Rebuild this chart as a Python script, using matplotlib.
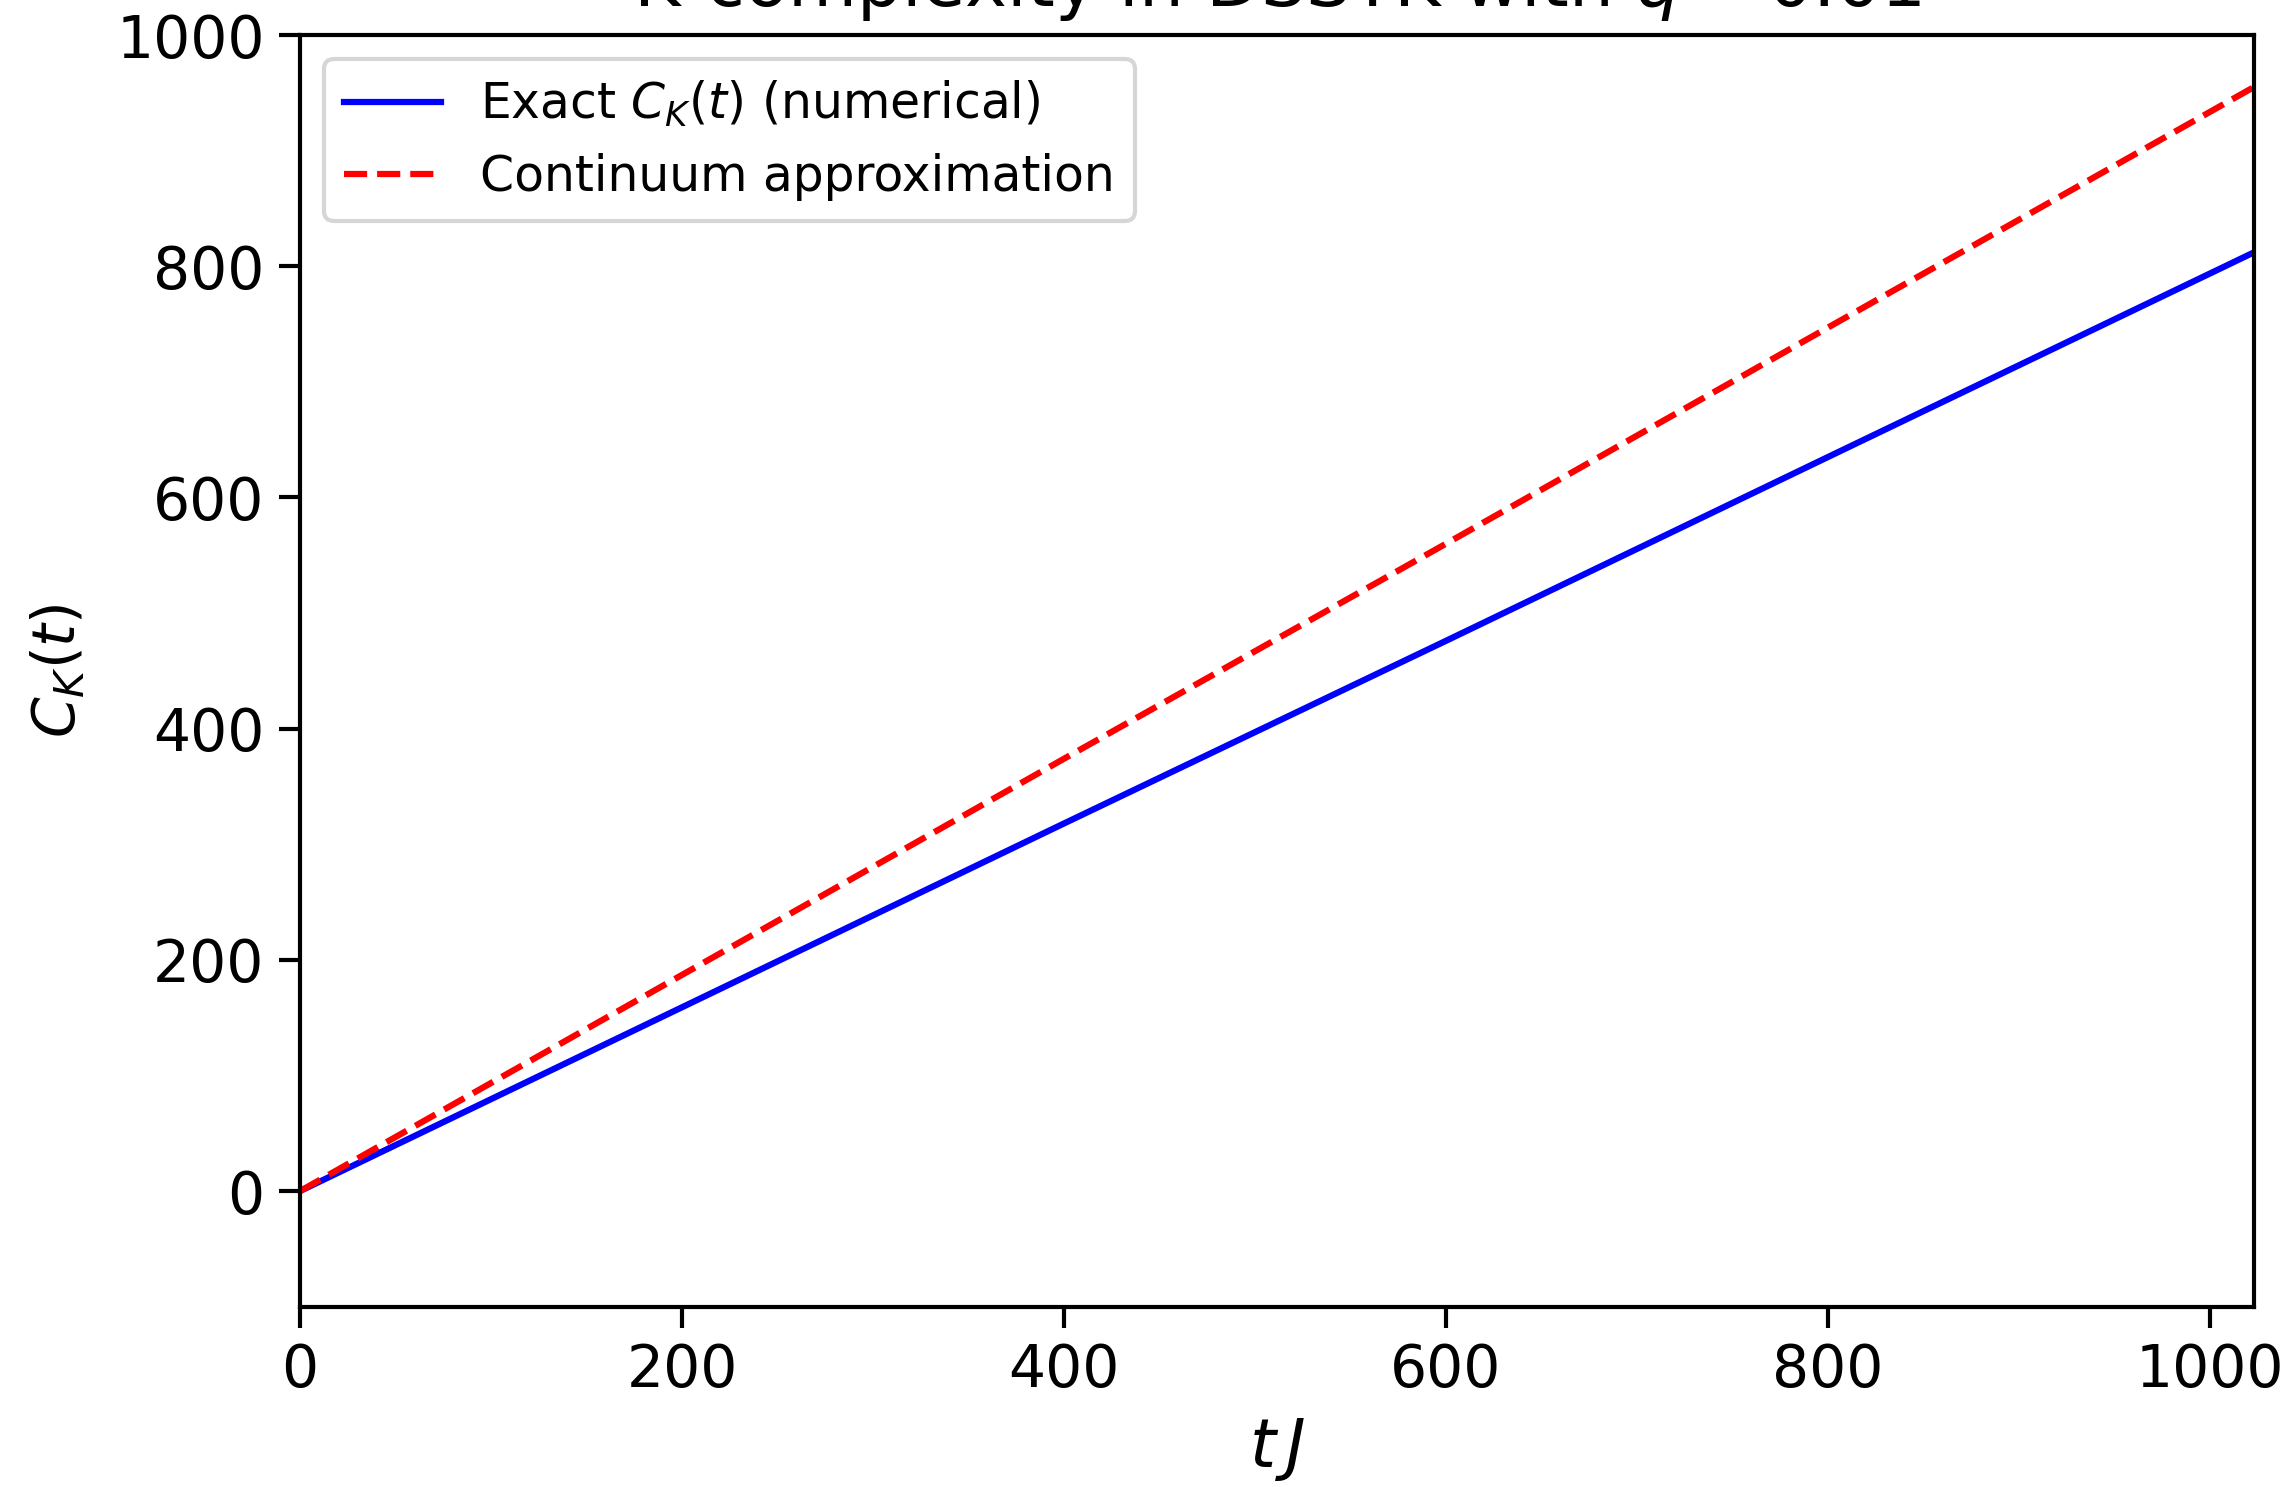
import matplotlib
matplotlib.use("Agg")
import matplotlib.pyplot as plt

# Data
t_vals = [0, 200, 400, 600, 800, 1023]
exact_ck = [0, 159, 318, 476, 635, 812]
continuum_ck = [0, 187, 374, 560, 747, 955]

x_ticks = [0, 200, 400, 600, 800, 1000]
y_ticks = [0, 200, 400, 600, 800, 1000]

fig = plt.figure(figsize=(2295 / 300, 1487 / 300), dpi=300)
ax = fig.add_axes([300 / 2295, 1 - 1306.7 / 1487, (2254 - 300) / 2295, (1306.7 - 35) / 1487])

ax.plot(t_vals, exact_ck, color="blue", lw=1.5, label=r"Exact $C_K(t)$ (numerical)")
ax.plot(t_vals, continuum_ck, color="red", ls="--", lw=1.5, label="Continuum approximation")

ax.set_xlim(0, 1023)
ax.set_ylim(-100, 1000)
ax.set_xticks(x_ticks)
ax.set_yticks(y_ticks)
ax.tick_params(labelsize=14, length=5, width=1.0)
for s in ax.spines.values():
    s.set_linewidth(1.0)
ax.set_xlabel(r"$t\,J$", fontsize=16)
ax.set_ylabel(r"$C_K(t)$", fontsize=14, labelpad=7)
ax.set_title(r"K-complexity in DSSYK with $q = 0.01$", fontsize=17, pad=7)
ax.legend(loc="upper left", fontsize=11.7)

fig.savefig("out.png", dpi=300)
